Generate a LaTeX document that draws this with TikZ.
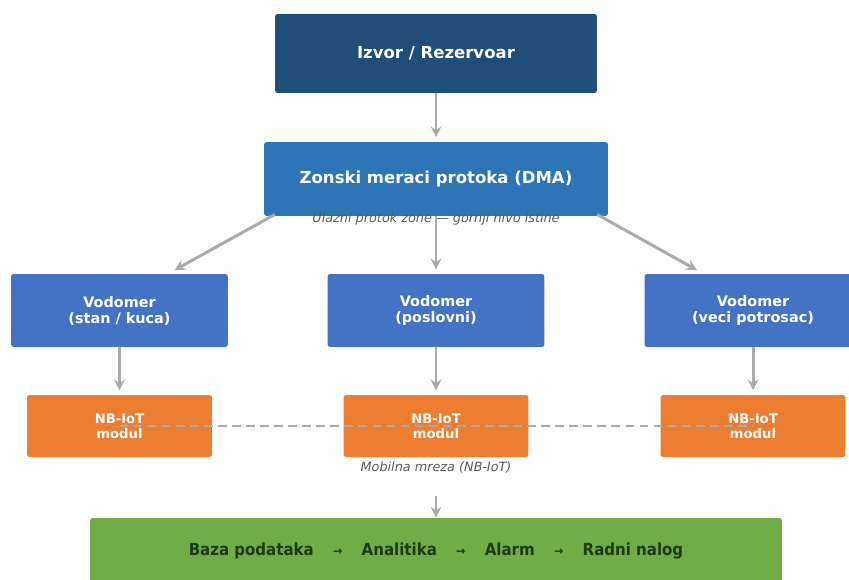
\documentclass[tikz,border=0pt]{standalone}
\usepackage{fontspec}
\setmainfont{DejaVu Sans}
\newfontfamily\condfont{DejaVu Sans Condensed}
\usepackage{xcolor}
\usetikzlibrary{arrows,shapes}

\definecolor{izvorblue}{HTML}{1F4E79}
\definecolor{dmablue}{HTML}{2E75B6}
\definecolor{meterblue}{HTML}{4472C4}
\definecolor{iotorange}{HTML}{ED7D31}
\definecolor{dbgreen}{HTML}{70AD47}
\definecolor{dbtext}{HTML}{1E3A14}
\definecolor{linkgray}{HTML}{AAAAAA}
\definecolor{notegray}{HTML}{595959}

\newcommand{\flowarr}{\hspace{11pt}{\fontsize{7}{8}\selectfont→}\hspace{11pt}}

\tikzset{
	box/.style={rounded corners=1.5pt, inner sep=0pt, text=white, align=center, font=\bfseries},
	note/.style={text=notegray, font=\itshape\fontsize{7.3}{8.5}\selectfont}
}

\begin{document}
\begin{tikzpicture}[x=0.02cm,y=-0.02cm]
		\useasboundingbox (0,0) rectangle (849,580);
		\node[box,fill=izvorblue,minimum width=6.44cm,minimum height=1.58cm,font=\bfseries\fontsize{9.4}{11}\selectfont] (izvor) at (436,53.5) {Izvor / Rezervoar};
		\node[box,fill=dmablue,minimum width=6.88cm,minimum height=1.48cm,font=\bfseries\fontsize{9.4}{11}\selectfont] (dma) at (436,179) {Zonski meraci protoka (DMA)};
		%
		\node[box,fill=meterblue,minimum width=4.34cm,minimum height=1.46cm,font=\bfseries\fontsize{8.2}{9.1}\selectfont] (stan) at (119.5,310.5) {Vodomer\\(stan / kuca)};
		\node[box,fill=meterblue,minimum width=4.34cm,minimum height=1.46cm,font=\bfseries\fontsize{8.2}{9.1}\selectfont] (posl) at (436,310.5) {Vodomer\\(poslovni)};
		\node[box,fill=meterblue,minimum width=4.34cm,minimum height=1.46cm,font=\bfseries\fontsize{8.2}{9.1}\selectfont] (veci) at (753,310.5) {Vodomer\\(veci potrosac)};
		%
		\node[box,fill=iotorange,minimum width=3.7cm,minimum height=1.24cm,font=\bfseries\fontsize{7.5}{8.5}\selectfont] (iotA) at (119.5,426) {NB-IoT\\modul};
		\node[box,fill=iotorange,minimum width=3.7cm,minimum height=1.24cm,font=\bfseries\fontsize{7.5}{8.5}\selectfont] (iotB) at (436,426) {NB-IoT\\modul};
		\node[box,fill=iotorange,minimum width=3.7cm,minimum height=1.24cm,font=\bfseries\fontsize{7.5}{8.5}\selectfont] (iotC) at (753,426) {NB-IoT\\modul};
		%
		\node[box,fill=dbgreen,text=dbtext,minimum width=13.84cm,minimum height=1.32cm,font=\condfont\bfseries\fontsize{9.5}{11}\selectfont] (baza) at (436,551) {Baza podataka\flowarr Analitika\flowarr Alarm\flowarr Radni nalog};
		%
		\node[note] (ulaz) at (436,219) {Ulazni protok zone — gornji nivo istine};
		\node[note] (mreza) at (436,467) {Mobilna mreza (NB-IoT)};
		\coordinate (mrezaout) at (436,496);
		%
		\draw[linkgray,line width=1.1pt,dash pattern=on 5pt off 3pt] (iotA.center) -- (iotC.center);
		%
		\path[->,>=stealth,linkgray,line width=1.7pt]
			(izvor) edge[shorten >=2.5pt] (dma)
			([xshift=0.22cm,yshift=1pt]dma.south west) edge ([xshift=1.1cm,yshift=2pt]stan.north)
			(dma) edge[shorten >=2.5pt] (posl)
			([xshift=-0.22cm,yshift=1pt]dma.south east) edge ([xshift=-1.12cm,yshift=2pt]veci.north)
			(stan) edge[shorten >=2.5pt] (iotA)
			(posl) edge[shorten >=2.5pt] (iotB)
			(veci) edge[shorten >=2.5pt] (iotC)
			(mrezaout) edge (baza);
	\end{tikzpicture}
\end{document}
